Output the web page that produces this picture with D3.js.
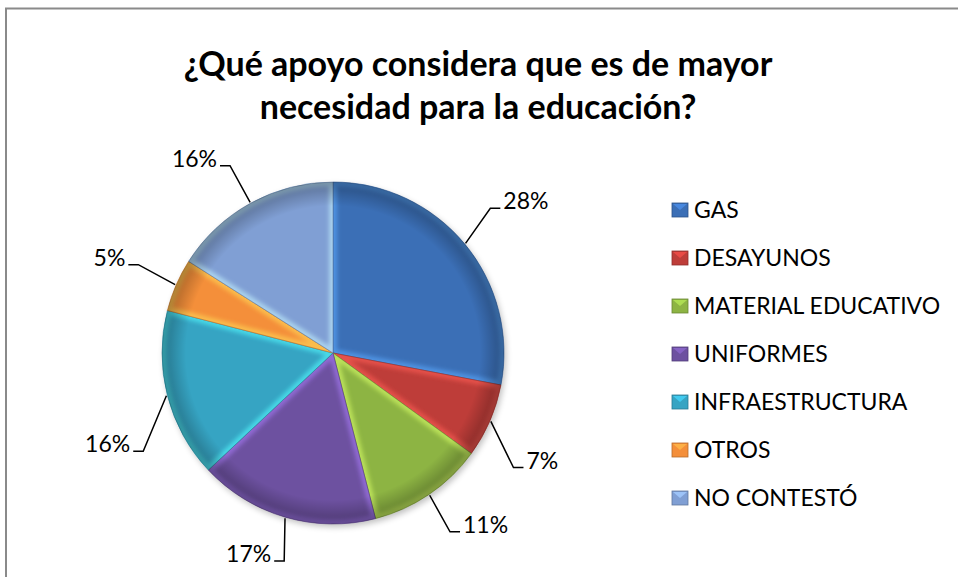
<!DOCTYPE html>
<html>
<head>
<meta charset="utf-8">
<script src="https://cdn.jsdelivr.net/npm/d3@7"></script>
<style>
  body { margin: 0; background: #fff; }
  svg { display: block; font-family: Lato, "Noto Sans", sans-serif; }
</style>
</head>
<body>
<svg id="chart" width="958" height="577"></svg>
<script>
// data
const CATEGORIES = ["GAS", "DESAYUNOS", "MATERIAL EDUCATIVO", "UNIFORMES", "INFRAESTRUCTURA", "OTROS", "NO CONTESTÓ"];
const PERCENTS = [28, 7, 11, 17, 16, 5, 16];
const COLORS = ["#3b6fb6", "#be3d39", "#8db443", "#6d51a0", "#36a4c3", "#f48f3a", "#809fd4"];
const TITLE_LINES = ["¿Qué apoyo considera que es de mayor", "necesidad para la educación?"];

// layout constants
const WIDTH = 958;
const HEIGHT = 577;
const CENTER = { x: 333, y: 353 };
const RADIUS = 171;
const LABEL_SHIFT = [-3, 9, 1, -3, -13, 1, 0]; // degrees, Excel nudges some labels
const LEGEND = { x: 672, top: 210, bottom: 498 };

const svg = d3.select("#chart");
const defs = svg.append("defs");

// frame (only top and left edges are visible in the crop)
svg.append("path")
  .attr("d", `M6,${HEIGHT} V8.5 H${WIDTH}`)
  .attr("fill", "none")
  .attr("stroke", "#8a8a8a")
  .attr("stroke-width", 2);

// title
svg.append("g")
  .selectAll("text")
  .data(TITLE_LINES)
  .join("text")
  .attr("x", 478)
  .attr("y", (d, i) => 76 + i * 43)
  .attr("text-anchor", "middle")
  .attr("font-size", 34)
  .attr("font-weight", "bold")
  .attr("fill", "#000")
  .text((d) => d);

// pie
const data = CATEGORIES.map((c, i) => ({ name: c, value: PERCENTS[i], color: COLORS[i] }));
const pie = d3.pie().sort(null).value((d) => d.value);
const arcs = pie(data);
const arc = d3.arc().innerRadius(0).outerRadius(RADIUS);

// rim shading
const rim = defs.append("radialGradient").attr("id", "rim")
  .attr("cx", "50%").attr("cy", "50%").attr("r", "50%");
rim.append("stop").attr("offset", "0.86").attr("stop-color", "#000").attr("stop-opacity", 0);
rim.append("stop").attr("offset", "1").attr("stop-color", "#000").attr("stop-opacity", 0.3);

const blur = defs.append("filter").attr("id", "soft");
blur.append("feGaussianBlur").attr("stdDeviation", 2.2);

const shadow = defs.append("filter").attr("id", "shadow")
  .attr("x", "-20%").attr("y", "-20%").attr("width", "140%").attr("height", "140%");
shadow.append("feGaussianBlur").attr("stdDeviation", 3);

const pieG = svg.append("g").attr("transform", `translate(${CENTER.x},${CENTER.y})`);

pieG.append("circle")
  .attr("r", RADIUS)
  .attr("cx", 2).attr("cy", 3)
  .attr("fill", "#000")
  .attr("opacity", 0.25)
  .attr("filter", "url(#shadow)");

arcs.forEach((d, i) => {
  defs.append("clipPath").attr("id", `clip${i}`)
    .append("path").attr("d", arc(d));
});

const slices = pieG.selectAll("g.slice")
  .data(arcs)
  .join("g")
  .attr("class", "slice");

slices.append("path")
  .attr("d", arc)
  .attr("fill", (d) => d.data.color);

// bevel highlight along slice edges
slices.append("path")
  .attr("d", arc)
  .attr("clip-path", (d, i) => `url(#clip${i})`)
  .attr("fill", "none")
  .attr("stroke", (d) => d3.color(d.data.color).brighter(1.2))
  .attr("stroke-width", 8)
  .attr("stroke-opacity", 0.6)
  .attr("filter", "url(#soft)");

pieG.append("circle")
  .attr("r", RADIUS)
  .attr("fill", "url(#rim)");

slices.append("path")
  .attr("d", arc)
  .attr("fill", "none")
  .attr("stroke", (d) => d3.color(d.data.color).darker(0.8))
  .attr("stroke-width", 0.8)
  .attr("stroke-opacity", 0.7);

// leader lines and percentage labels
const fmt = (v) => `${v}%`;
pieG.append("g").selectAll("g")
  .data(arcs)
  .join("g")
  .each(function (d, i) {
    const mid = (d.startAngle + d.endAngle) / 2;
    const a = mid + (LABEL_SHIFT[i] * Math.PI) / 180;
    const start = [Math.sin(mid) * (RADIUS + 1), -Math.cos(mid) * (RADIUS + 1)];
    const elbow = [Math.sin(a) * RADIUS * 1.25, -Math.cos(a) * RADIUS * 1.25];
    const dir = elbow[0] >= 0 ? 1 : -1;
    const end = [elbow[0] + dir * 10, elbow[1]];
    const g = d3.select(this);
    g.append("path")
      .attr("d", d3.line()([start, elbow, end]))
      .attr("fill", "none")
      .attr("stroke", "#000")
      .attr("stroke-width", 1.5);
    g.append("text")
      .attr("x", end[0] + dir * 3)
      .attr("y", end[1] + 1)
      .attr("text-anchor", dir > 0 ? "start" : "end")
      .attr("font-size", 23)
      .attr("fill", "#000")
      .text(fmt(d.data.value));
  });

// legend
const legendY = d3.scalePoint().domain(CATEGORIES).range([LEGEND.top, LEGEND.bottom]);
const legend = svg.append("g").selectAll("g")
  .data(data)
  .join("g")
  .attr("transform", (d) => `translate(${LEGEND.x},${legendY(d.name)})`);

legend.append("rect")
  .attr("x", 0).attr("y", -7)
  .attr("width", 16).attr("height", 14)
  .attr("fill", (d) => d.color)
  .attr("stroke", (d) => d3.color(d.color).darker(0.8))
  .attr("stroke-width", 0.8);

legend.append("path")
  .attr("d", "M1,-6 H15 L8,0 Z")
  .attr("fill", (d) => d3.color(d.color).brighter(0.7))
  .attr("opacity", 0.8);

legend.append("text")
  .attr("x", 22)
  .attr("y", 8)
  .attr("font-size", 23)
  .attr("fill", "#000")
  .text((d) => d.name);
</script>
</body>
</html>
